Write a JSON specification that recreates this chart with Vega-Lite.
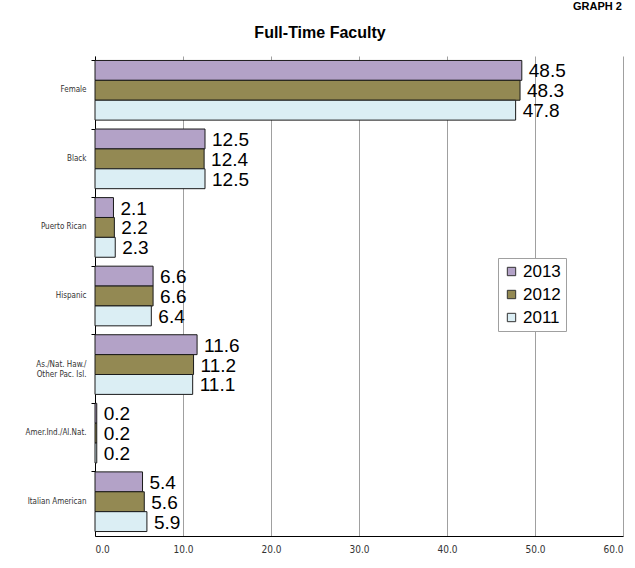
{
  "$schema": "https://vega.github.io/schema/vega-lite/v6.json",
  "width": 528,
  "height": 480,
  "autosize": {"type": "none"},
  "padding": {"left": 95, "top": 56, "right": 12, "bottom": 32},
  "background": "white",
  "title": {
    "text": "Full-Time Faculty",
    "anchor": "middle",
    "dx": -39,
    "offset": -57,
    "baseline": "bottom",
    "fontSize": 16,
    "fontWeight": "bold",
    "font": "Liberation Sans",
    "color": "#000000"
  },
  "data": {
    "values": [
      {"group": "Female", "year": "2013", "pct": 48.5},
      {"group": "Female", "year": "2012", "pct": 48.3},
      {"group": "Female", "year": "2011", "pct": 47.8},
      {"group": "Black", "year": "2013", "pct": 12.5},
      {"group": "Black", "year": "2012", "pct": 12.4},
      {"group": "Black", "year": "2011", "pct": 12.5},
      {"group": "Puerto Rican", "year": "2013", "pct": 2.1},
      {"group": "Puerto Rican", "year": "2012", "pct": 2.2},
      {"group": "Puerto Rican", "year": "2011", "pct": 2.3},
      {"group": "Hispanic", "year": "2013", "pct": 6.6},
      {"group": "Hispanic", "year": "2012", "pct": 6.6},
      {"group": "Hispanic", "year": "2011", "pct": 6.4},
      {"group": "As./Nat. Haw./Other Pac. Isl.", "year": "2013", "pct": 11.6},
      {"group": "As./Nat. Haw./Other Pac. Isl.", "year": "2012", "pct": 11.2},
      {"group": "As./Nat. Haw./Other Pac. Isl.", "year": "2011", "pct": 11.1},
      {"group": "Amer.Ind./Al.Nat.", "year": "2013", "pct": 0.2},
      {"group": "Amer.Ind./Al.Nat.", "year": "2012", "pct": 0.2},
      {"group": "Amer.Ind./Al.Nat.", "year": "2011", "pct": 0.2},
      {"group": "Italian American", "year": "2013", "pct": 5.4},
      {"group": "Italian American", "year": "2012", "pct": 5.6},
      {"group": "Italian American", "year": "2011", "pct": 5.9}
    ]
  },
  "encoding": {
    "y": {
      "field": "group",
      "type": "nominal",
      "sort": ["Female", "Black", "Puerto Rican", "Hispanic", "As./Nat. Haw./Other Pac. Isl.", "Amer.Ind./Al.Nat.", "Italian American"],
      "scale": {"paddingInner": 0.13, "paddingOuter": 0.065},
      "axis": {
        "title": "GRAPH 2",
        "titleAngle": 0,
        "titleX": 502,
        "titleY": -45,
        "titleAlign": "center",
        "titleBaseline": "bottom",
        "titleFont": "Liberation Sans",
        "titleFontSize": 11,
        "titleFontWeight": "bold",
        "titleColor": "#000000",
        "bandPosition": 0,
        "domainColor": "#000000",
        "tickColor": "#000000",
        "tickSize": 4,
        "labelPadding": 5,
        "labelFont": "Liberation Sans Narrow, DejaVu Sans Condensed, Liberation Sans, sans-serif",
        "labelFontSize": 8,
        "labelColor": "#333333",
        "labelExpr": "datum.label == 'As./Nat. Haw./Other Pac. Isl.' ? ['As./Nat. Haw./', 'Other Pac. Isl.'] : datum.label",
        "grid": false
      }
    },
    "yOffset": {
      "field": "year",
      "type": "nominal",
      "sort": ["2013", "2012", "2011"]
    },
    "x": {
      "field": "pct",
      "type": "quantitative",
      "scale": {"domain": [0, 60], "nice": false},
      "axis": {
        "title": null,
        "values": [0, 10, 20, 30, 40, 50, 60],
        "format": ".1f",
        "grid": true,
        "gridColor": "#a0a0a0",
        "gridWidth": 1,
        "domainColor": "#000000",
        "ticks": false,
        "labelPadding": 8,
        "labelFont": "Liberation Sans Narrow, DejaVu Sans Condensed, Liberation Sans, sans-serif",
        "labelFontSize": 10,
        "labelColor": "#333333"
      }
    }
  },
  "layer": [
    {
      "mark": {"type": "bar", "stroke": "#1a1a1a", "strokeWidth": 1},
      "encoding": {
        "color": {
          "field": "year",
          "type": "nominal",
          "sort": ["2013", "2012", "2011"],
          "scale": {"domain": ["2013", "2012", "2011"], "range": ["#b3a2c7", "#938953", "#dbeef4"]},
          "legend": {
            "title": null,
            "orient": "none",
            "legendX": 403,
            "legendY": 202,
            "strokeColor": "#a0a0a0",
            "fillColor": "white",
            "padding": 5,
            "rowPadding": 5,
            "labelFont": "Liberation Sans",
            "labelFontSize": 17,
            "labelColor": "#000000",
            "labelOffset": 3,
            "symbolType": "square",
            "symbolSize": 70,
            "symbolStrokeColor": "#333333",
            "symbolStrokeWidth": 1,
            "symbolOpacity": 1
          }
        }
      }
    },
    {
      "mark": {"type": "text", "align": "left", "baseline": "middle", "dx": 7, "dy": 1, "font": "Liberation Sans", "fontSize": 19, "color": "#000000"},
      "encoding": {
        "text": {"field": "pct", "type": "quantitative", "format": ".1f"}
      }
    }
  ],
  "config": {
    "view": {"stroke": null}
  }
}
